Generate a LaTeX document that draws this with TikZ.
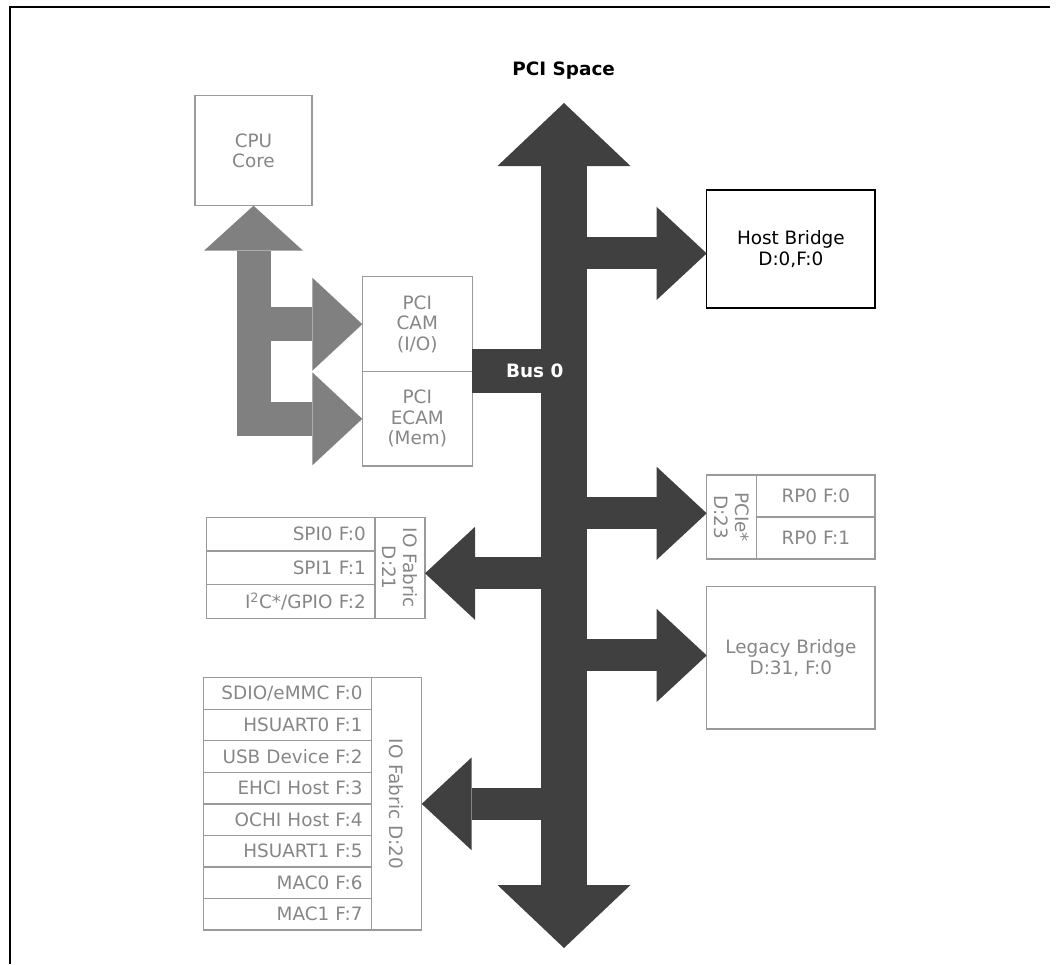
\documentclass[tikz,border=0pt]{standalone}
\usepackage{fontspec}
\setmainfont{DejaVu Sans}
\usetikzlibrary{positioning,arrows.meta}
\definecolor{busdark}{HTML}{404040}
\definecolor{linkgray}{HTML}{808080}
\definecolor{boxline}{HTML}{9A9A9A}
\definecolor{boxtext}{HTML}{868686}

\begin{document}
\begin{tikzpicture}[
  x=1pt,y=-1pt,
  font=\fontsize{18.4}{20.5}\selectfont,
  box/.style={draw=boxline,line width=1.3pt,text=boxtext,align=center,inner sep=0pt,outer sep=0pt},
  rowbox/.style={box,minimum width=168.3pt,minimum height=#1,text width=150pt,align=right},
  vlabel/.style={rotate=-90,align=center,text=boxtext,inner sep=0pt},
  bus/.style={line width=46pt,color=busdark,
    {Triangle[length=63pt,width=133pt,line width=0pt]}-{Triangle[length=63pt,width=133pt,line width=0pt]}},
  branch/.style={line width=32pt,color=busdark,-{Triangle[length=50pt,width=93pt,line width=0pt]}},
  cpulink/.style={line width=34pt,color=linkgray}
  ]
  \useasboundingbox (0,0) rectangle (1056,964);
  % Frame
  \draw[line width=2pt] (10,964) -- (10,7) -- (1050,7);
  \node[font=\fontsize{18.4}{20.5}\selectfont\bfseries] (title) at (563.7,70.7) {PCI Space};
  % CPU side
  \node[box,minimum width=117pt,minimum height=110pt] (cpu) at (253.5,150.7) {CPU\\Core};
  \node[box,minimum width=110pt,minimum height=95pt] (cam) at (417.3,324.2) {PCI\\CAM\\(I/O)};
  \node[box,minimum width=110pt,minimum height=94.3pt,below=0pt of cam] (ecam) {PCI\\ECAM\\(Mem)};
  % Right side
  \node[box,draw=black,text=black,minimum width=168.3pt,minimum height=118pt] (host) at (790.85,249) {Host Bridge\\D:0,F:0};
  \node[box,minimum width=50pt,minimum height=84pt,label={[vlabel]center:{PCIe*\\D:23}}] (pcie) at (731.7,517) {};
  \node[box,minimum width=118.3pt,minimum height=42pt,anchor=north west] (rp0) at (pcie.north east) {RP0 F:0};
  \node[box,minimum width=118.3pt,minimum height=42pt,below=0pt of rp0] (rp1) {RP0 F:1};
  \node[box,minimum width=168.3pt,minimum height=142.3pt] (legacy) at (790.85,657.85) {Legacy Bridge\\D:31, F:0};
  % IO fabric D:21
  \node[box,minimum width=50pt,minimum height=101pt,label={[vlabel]center:{IO Fabric\\D:21}}] (fab21) at (400,567.8) {};
  \node[rowbox=33.67pt,anchor=north east] (spi0) at (fab21.north west) {SPI0 F:0};
  \node[rowbox=33.67pt,below=0pt of spi0] (spi1) {SPI1 F:1};
  \node[rowbox=33.67pt,below=0pt of spi1] (i2c) {I\textsuperscript{2}C*/GPIO F:2};
  % IO fabric D:20
  \node[box,minimum width=50pt,minimum height=252.3pt,label={[vlabel]center:IO Fabric D:20}] (fab20) at (396.7,803.85) {};
  \node[rowbox=31.54pt,anchor=north east] (sdio) at (fab20.north west) {SDIO/eMMC F:0};
  \node[rowbox=31.54pt,below=0pt of sdio] (hsu0) {HSUART0 F:1};
  \node[rowbox=31.54pt,below=0pt of hsu0] (usbd) {USB Device F:2};
  \node[rowbox=31.54pt,below=0pt of usbd] (ehci) {EHCI Host F:3};
  \node[rowbox=31.54pt,below=0pt of ehci] (ochi) {OCHI Host F:4};
  \node[rowbox=31.54pt,below=0pt of ochi] (hsu1) {HSUART1 F:5};
  \node[rowbox=31.54pt,below=0pt of hsu1] (mac0) {MAC0 F:6};
  \node[rowbox=31.54pt,below=0pt of mac0] (mac1) {MAC1 F:7};
  % Bus 0
  \coordinate (bustop) at (564,103);
  \coordinate (busbot) at (564,948);
  \fill[busdark] (472,349) rectangle (564,393.3);
  \draw[bus] (bustop) -- (busbot);
  % Branches
  \coordinate (hostin) at ([yshift=-4.4pt]host.west);
  \coordinate (pciein) at ([yshift=3.7pt]pcie.west);
  \coordinate (legin) at ([yshift=2.4pt]legacy.west);
  \coordinate (fab21in) at ([yshift=-5.5pt]fab21.east);
  \draw[branch] (bustop |- hostin) -- (hostin);
  \draw[branch] (bustop |- pciein) -- (pciein);
  \draw[branch] (bustop |- legin) -- (legin);
  \draw[branch] (bustop |- fab21in) -- (fab21in);
  \draw[branch] (bustop |- fab20.east) -- (fab20.east);
  \node[font=\fontsize{18.4}{20.5}\selectfont\bfseries,text=white] (bus0) at (534.7,371) {Bus 0};
  % CPU links
  \draw[cpulink,{Triangle[length=45pt,width=99pt,line width=0pt]}-{Triangle[length=50pt,width=93pt,line width=0pt]}]
    (cpu.south) -- (cpu.south |- ecam.west) -- (ecam.west);
  \draw[cpulink,-{Triangle[length=50pt,width=93pt,line width=0pt]}] (cpu.south |- cam.west) -- (cam.west);
\end{tikzpicture}
\end{document}
